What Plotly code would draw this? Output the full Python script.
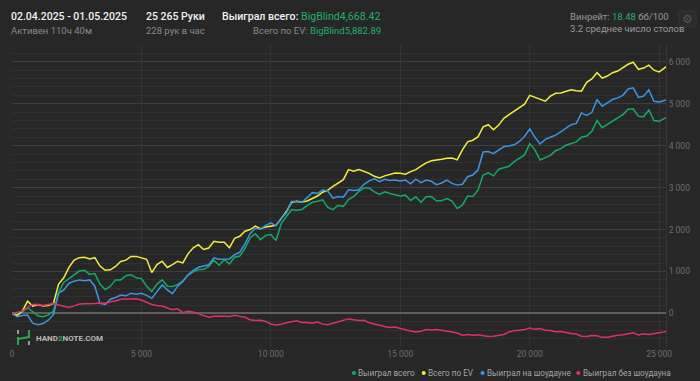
import plotly.graph_objects as go

# ---------------- data ----------------
hands = list(range(0, 25201, 200)) + [25265]

won_total = [0, -25, 30, 135, 40, -55, -80, -35, 50, 500, 740, 830, 900, 1010, 1030, 930, 950, 700, 570, 650,
             800, 800, 900, 920, 850, 830, 650, 520, 700, 800, 650, 640, 690, 780, 910, 990, 1045, 1045, 1120, 1270,
             1150, 1280, 1180, 1340, 1370, 1550, 1800, 1900, 1760, 1860, 1880, 1740, 2140, 2300, 2475, 2460, 2480, 2570, 2650, 2675,
             2710, 2530, 2475, 2580, 2550, 2715, 2790, 2910, 2990, 2990, 2900, 2840, 2900, 2860, 2830, 2800, 2820, 2690, 2780, 2650,
             2780, 2790, 2680, 2690, 2740, 2680, 2500, 2580, 2800, 2790, 2940, 3300, 3350, 3280, 3440, 3480, 3510, 3620, 3700, 3780,
             4050, 3900, 3660, 3720, 3770, 3880, 3930, 4010, 4050, 4090, 4200, 4230, 4340, 4600, 4430, 4510, 4600, 4660, 4740, 4870,
             4880, 4700, 4690, 4850, 4600, 4580, 4650, 4668.42]

ev_total = [0, -50, 55, 290, 175, 215, 175, 190, 240, 700, 850, 1100, 1270, 1330, 1340, 1300, 1330, 1130, 1030, 1040,
            1120, 1240, 1270, 1360, 1360, 1330, 1290, 975, 1165, 1245, 1095, 1165, 1245, 1205, 1420, 1565, 1640, 1525, 1560, 1720,
            1700, 1700, 1565, 1790, 1840, 1960, 2000, 2080, 2020, 2060, 2080, 2100, 2260, 2430, 2650, 2675, 2660, 2680, 2740, 2800,
            2890, 2940, 3030, 3120, 3190, 3430, 3390, 3430, 3390, 3340, 3270, 3230, 3280, 3320, 3350, 3340, 3320, 3380, 3430, 3510,
            3590, 3640, 3650, 3675, 3700, 3705, 3660, 3900, 4090, 4130, 4210, 4450, 4500, 4380, 4490, 4650, 4740, 4820, 4900, 4990,
            5200, 5150, 5100, 5060, 5180, 5250, 5255, 5290, 5330, 5310, 5300, 5510, 5590, 5740, 5610, 5660, 5740, 5780, 5870, 5940,
            5990, 5820, 5850, 5920, 5800, 5760, 5850, 5882.89]

won_showdown = [0, -80, -50, -40, -230, -270, -240, -160, -30, 480, 560, 720, 770, 800, 780, 800, 650, 240, 215, 340,
                380, 440, 420, 480, 460, 480, 430, 360, 520, 680, 560, 470, 650, 760, 920, 1030, 1100, 1130, 1160, 1325,
                1290, 1290, 1300, 1400, 1460, 1660, 1900, 2030, 2010, 2100, 2160, 2090, 2270, 2400, 2675, 2660, 2650, 2760, 2880, 2860,
                2940, 2920, 2750, 2790, 2770, 2950, 2930, 2950, 3080, 3160, 3210, 3140, 3200, 3170, 3180, 3160, 3180, 3090, 3200, 3120,
                3180, 3150, 3070, 3110, 3180, 3100, 3060, 3080, 3260, 3300, 3420, 3850, 3860, 3810, 3900, 3980, 3990, 4020, 4100, 4220,
                4400, 4200, 4040, 4150, 4200, 4250, 4330, 4410, 4500, 4530, 4780, 4720, 4790, 5100, 4940, 5020, 5100, 5140, 5200, 5350,
                5380, 5150, 5180, 5330, 5060, 5040, 5070, 5090]

won_no_showdown = [0, 30, 55, 140, 215, 215, 190, 215, 235, 200, 165, 145, 180, 225, 230, 230, 240, 250, 245, 280,
                   295, 340, 340, 350, 350, 320, 270, 215, 190, 175, 130, 90, 110, 20, 50, 35, -10, -50, -90, -65,
                   -60, -65, -70, -45, -70, -90, -150, -170, -165, -190, -250, -275, -260, -220, -200, -175, -215, -215, -235, -205,
                   -255, -270, -235, -200, -180, -130, -150, -170, -165, -220, -250, -285, -312, -335, -325, -360, -395, -418, -440, -422,
                   -382, -395, -382, -397, -422, -445, -465, -520, -505, -522, -510, -530, -550, -545, -530, -500, -440, -410, -400, -385,
                   -345, -375, -362, -400, -405, -438, -428, -462, -480, -490, -545, -550, -525, -530, -570, -570, -540, -522, -508, -482,
                   -460, -515, -485, -500, -482, -465, -440, -420]

series_names = ["Выиграл всего", "Всего по EV", "Выиграл на шоудауне", "Выиграл без шоудауна"]
series_colors = ["#14aa66", "#f2ee3a", "#3a95e4", "#e0306a"]

x_tick_vals = [0, 5000, 10000, 15000, 20000, 25000]
x_tick_text = ["0", "5 000", "10 000", "15 000", "20 000", "25 000"]
y_tick_vals = [0, 1000, 2000, 3000, 4000, 5000, 6000]
y_tick_text = ["0", "1 000", "2 000", "3 000", "4 000", "5 000", "6 000"]

# ---------------- figure ----------------
W, H = 700, 381
ML, MR, MT, MB = 10, 34, 45, 34
PW, PH = W - ML - MR, H - MT - MB
BG = "#272727"
GREEN_TXT = "#1db36c"
FONT = "Roboto"


def xp(px):
    return (px - ML) / PW


def yp(py):
    return (H - MB - py) / PH


fig = go.Figure()
for name, vals, col in zip(series_names, [won_total, ev_total, won_showdown, won_no_showdown], series_colors):
    fig.add_trace(go.Scatter(x=hands, y=vals, mode="lines", name=name,
                             line=dict(color=col, width=1.5), showlegend=False))

annotations = []


def txt(px, py, text, size, color, anchor="left", weight=None):
    f = dict(family=FONT, size=size, color=color)
    if weight:
        f["weight"] = weight
    annotations.append(dict(x=xp(px), y=yp(py), xref="paper", yref="paper", text=text,
                            showarrow=False, xanchor=anchor, yanchor="middle", font=f, borderpad=0))


# header
txt(8, 17, "02.04.2025 - 01.05.2025", 10.5, "#f2f2f2", weight=500)
txt(8, 31, "Активен 110ч 40м", 9.5, "#8a8a8a")
txt(143, 17, "25 265 Руки", 10.5, "#f2f2f2", weight=500)
txt(143, 31, "228 рук в час", 9.5, "#8a8a8a")
txt(220, 17, "Выиграл всего: <span style='color:%s;font-weight:400'>BigBlind4,668.42</span>" % GREEN_TXT,
    10.6, "#f2f2f2", weight=500)
txt(381, 31, "Всего по EV: <span style='color:%s'>BigBlind5,882.89</span>" % GREEN_TXT, 9.5, "#8a8a8a", anchor="right")
txt(569, 17, "Винрейт: <span style='color:%s'>18.48</span> бб/100" % GREEN_TXT, 9.5, "#9a9a9a")
txt(569, 29, "3.2 среднее число столов", 9.5, "#9a9a9a")
txt(687.5, 19.5, "⚙", 12, "#555555", anchor="center")

# watermark
txt(33, 338, "<b>HAND<span style='color:#2aa84a'>2</span>NOTE.COM</b>", 8, "#b8b8b8")

# legend (dots + labels)
legend_px = [353, 423, 482, 578]
shapes = []
for lx, name, col in zip(legend_px, series_names, series_colors):
    txt(lx + 3.5, 373, name, 8.2, "#a5a5a5")
    shapes.append(dict(type="circle", xref="paper", yref="paper",
                       x0=xp(lx - 2), x1=xp(lx + 2), y0=yp(375), y1=yp(371),
                       fillcolor=col, line=dict(width=0)))

# gear box
shapes.append(dict(type="rect", xref="paper", yref="paper", x0=xp(679), x1=xp(696), y0=yp(27), y1=yp(11),
                   line=dict(color="#363636", width=1), fillcolor="#2b2b2b", layer="below"))

# watermark logo


def seg(x0, y0, x1, y1, col, w=2):
    shapes.append(dict(type="line", xref="paper", yref="paper", x0=xp(x0), y0=yp(y0), x1=xp(x1), y1=yp(y1),
                       line=dict(color=col, width=w)))


seg(16, 330, 16, 334, "#9a9a9a")
seg(16, 337, 16, 345, "#2aa84a")
seg(16, 339, 27, 337, "#2aa84a")
seg(27, 330, 27, 338, "#2aa84a")
seg(27, 341, 27, 345, "#9a9a9a")

fig.update_layout(
    width=W, height=H,
    paper_bgcolor=BG, plot_bgcolor=BG,
    margin=dict(l=ML, r=MR, t=MT, b=MB),
    showlegend=False,
    font=dict(family=FONT, color="#777777"),
    annotations=annotations,
    shapes=shapes,
    xaxis=dict(range=[0, 25265], tickmode="array", tickvals=x_tick_vals, ticktext=x_tick_text,
               showgrid=True, gridcolor="#333333", gridwidth=1, zeroline=False, showline=False,
               ticks="", tickfont=dict(family=FONT, size=8.5, color="#6e6e6e")),
    yaxis=dict(range=[-800, 6400], side="right", tickmode="array", tickvals=y_tick_vals, ticktext=y_tick_text,
               showgrid=True, gridcolor="#3e3e3e", gridwidth=1,
               minor=dict(tick0=0, dtick=200, showgrid=True, gridcolor="#303030", gridwidth=1),
               zeroline=True, zerolinecolor="#5e5e5e", zerolinewidth=2,
               showline=True, linecolor="#363636", linewidth=1,
               ticks="", tickfont=dict(family=FONT, size=8.5, color="#6e6e6e")),
)

fig.write_html("out.html", config={"displayModeBar": False},
               post_script="document.body.style.margin='0';document.body.style.background='%s';" % BG)
